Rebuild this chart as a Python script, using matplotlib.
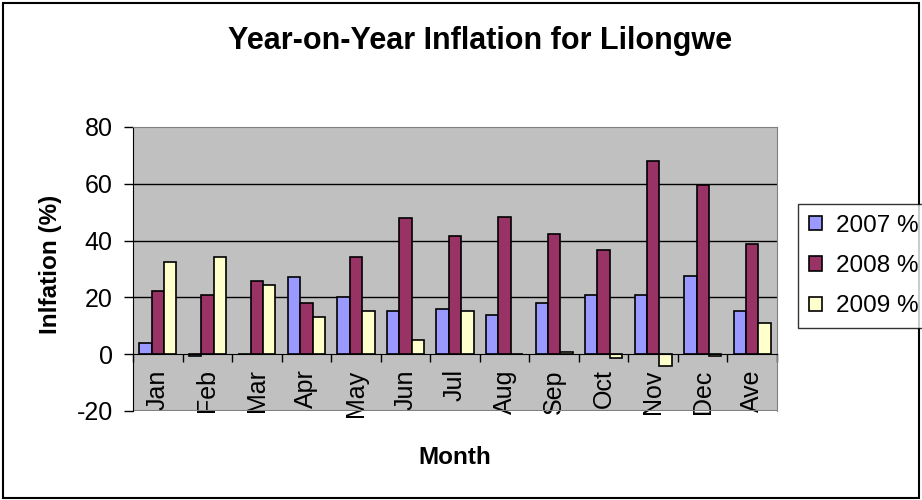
import matplotlib.pyplot as plt
import numpy as np

plt.rcParams['font.family'] = ['Liberation Sans', 'DejaVu Sans']
plt.rcParams['axes.unicode_minus'] = False

months = ['Jan', 'Feb', 'Mar', 'Apr', 'May', 'Jun', 'Jul',
          'Aug', 'Sep', 'Oct', 'Nov', 'Dec', 'Ave']
infl_2007 = [4.0, -0.6, 0.0, 27.2, 20.0, 15.3, 16.0, 13.9, 18.0, 20.8, 20.8, 27.7, 15.3]
infl_2008 = [22.2, 20.8, 25.7, 18.0, 34.1, 47.9, 41.6, 48.4, 42.3, 36.8, 68.0, 59.7, 38.8]
infl_2009 = [32.6, 34.1, 24.3, 13.2, 15.3, 4.9, 15.3, 0.0, 0.8, -1.4, -4.2, -0.7, 11.1]
series_names = ['2007 %', '2008 %', '2009 %']
colors = ['#9999FF', '#993366', '#FFFFCC']

fig = plt.figure(figsize=(9.22, 5.0), dpi=100)
ax = fig.add_axes([133 / 922, 1 - 411 / 500, 644 / 922, 284 / 500])
ax.set_facecolor('#C0C0C0')

x = np.arange(len(months))
w = 0.25
for i, (vals, name, c) in enumerate(zip([infl_2007, infl_2008, infl_2009],
                                         series_names, colors)):
    ax.bar(x + (i - 1) * w, vals, width=w, color=c, edgecolor='black',
           linewidth=1.2, label=name, zorder=3)

ax.set_xlim(-0.5, len(months) - 0.5)
ax.set_ylim(-20, 80)
ax.set_yticks([-20, 0, 20, 40, 60, 80])
for yv in [20, 40, 60]:
    ax.axhline(yv, color='black', linewidth=1, zorder=1)

# category axis crosses at zero
ax.spines['bottom'].set_position(('data', 0))
ax.spines['bottom'].set_color('black')
ax.spines['bottom'].set_zorder(4)
ax.spines['left'].set_color('black')
ax.spines['top'].set_color('#808080')
ax.spines['right'].set_color('#808080')
ax.axhline(-20, color='#808080', linewidth=1.5, zorder=2)

ax.set_xticks(x)
ax.set_xticklabels(months, rotation=90, fontsize=18, va='top')
ax.set_xticks(np.arange(len(months) + 1) - 0.5, minor=True)
ax.tick_params(axis='x', which='major', length=0, pad=11)
ax.tick_params(axis='x', which='minor', length=6, width=1, direction='out')
ax.tick_params(axis='y', labelsize=18, length=6.5, width=1, direction='out', pad=8)

fig.text(455 / 922, 1 - 457 / 500, 'Month', ha='center', va='center',
         fontsize=17.5, fontweight='bold')
fig.text(50 / 922, 1 - 264 / 500, 'Inlfation (%)', rotation=90, ha='center',
         va='center', fontsize=17.5, fontweight='bold')
fig.text(480 / 922, 1 - 41 / 500, 'Year-on-Year Inflation for Lilongwe',
         ha='center', va='center', fontsize=22, fontweight='bold')

leg = fig.legend(loc='upper left', bbox_to_anchor=(798 / 922, 1 - 204 / 500),
                 fontsize=17.5, frameon=True, fancybox=False, edgecolor='black',
                 handlelength=0.53, handleheight=0.53, handletextpad=0.6,
                 labelspacing=0.75, borderpad=0.45, borderaxespad=0)
leg.get_frame().set_linewidth(1)

# outer chart border
fig.add_artist(plt.Rectangle((0.003, 0.004), 0.994, 0.991, transform=fig.transFigure,
                             fill=False, edgecolor='black', linewidth=1.5))

fig.savefig('out.png', dpi=100)
